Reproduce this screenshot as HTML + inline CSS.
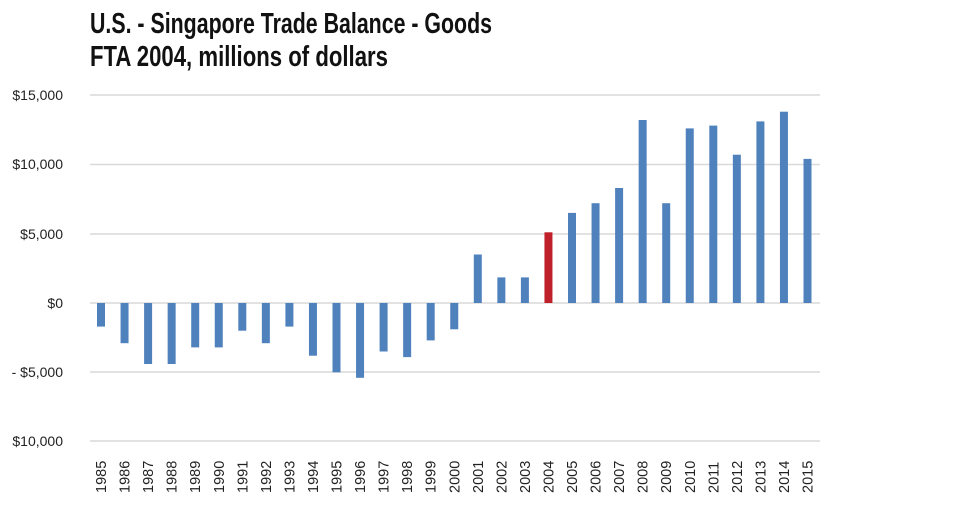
<!DOCTYPE html>
<html><head><meta charset="utf-8"><style>
html,body{margin:0;padding:0;background:#fff;width:960px;height:506px;overflow:hidden}
</style></head><body>
<svg width="960" height="506" xmlns="http://www.w3.org/2000/svg">
<g font-family="'Liberation Sans Narrow','Liberation Sans',sans-serif" font-size="29" font-weight="bold" fill="#111">
<text x="90" y="33" textLength="402" lengthAdjust="spacingAndGlyphs">U.S. - Singapore Trade Balance - Goods</text>
<text x="90" y="66" textLength="298" lengthAdjust="spacingAndGlyphs">FTA 2004, millions of dollars</text>
</g>
<g stroke="#d9d9d9" stroke-width="1.5">
<line x1="90" x2="820" y1="95" y2="95"/><line x1="90" x2="820" y1="164.5" y2="164.5"/>
<line x1="90" x2="820" y1="234" y2="234"/><line x1="90" x2="820" y1="303" y2="303"/>
<line x1="90" x2="820" y1="372" y2="372"/><line x1="90" x2="820" y1="441" y2="441"/>
</g>
<g font-family="'Liberation Sans',sans-serif" font-size="14" fill="#222" text-anchor="end">
<text x="63" y="100">$15,000</text><text x="63" y="169">$10,000</text>
<text x="63" y="239">$5,000</text><text x="63" y="308">$0</text>
<text x="63" y="377">- $5,000</text><text x="63" y="446">$10,000</text>
</g>
<g fill="#4f81bd">
<rect x="97" y="303" width="8" height="23.6"/>
<rect x="120.55" y="303" width="8" height="40.2"/>
<rect x="144.1" y="303" width="8" height="61"/>
<rect x="167.65" y="303" width="8" height="61"/>
<rect x="191.2" y="303" width="8" height="44.4"/>
<rect x="214.75" y="303" width="8" height="44.4"/>
<rect x="238.3" y="303" width="8" height="27.7"/>
<rect x="261.85" y="303" width="8" height="40.2"/>
<rect x="285.4" y="303" width="8" height="23.6"/>
<rect x="308.95" y="303" width="8" height="52.7"/>
<rect x="332.5" y="303" width="8" height="69.3"/>
<rect x="356.05" y="303" width="8" height="74.8"/>
<rect x="379.6" y="303" width="8" height="48.5"/>
<rect x="403.15" y="303" width="8" height="54.1"/>
<rect x="426.7" y="303" width="8" height="37.4"/>
<rect x="450.25" y="303" width="8" height="26.3"/>
<rect x="473.8" y="254.5" width="8" height="48.5"/>
<rect x="497.35" y="277.4" width="8" height="25.6"/>
<rect x="520.9" y="277.4" width="8" height="25.6"/>
<rect x="544.45" y="232.3" width="8" height="70.7" fill="#c0202a"/>
<rect x="568" y="212.9" width="8" height="90.1"/>
<rect x="591.55" y="203.2" width="8" height="99.8"/>
<rect x="615.1" y="188" width="8" height="115"/>
<rect x="638.65" y="120" width="8" height="183"/>
<rect x="662.2" y="203.2" width="8" height="99.8"/>
<rect x="685.75" y="128.4" width="8" height="174.6"/>
<rect x="709.3" y="125.6" width="8" height="177.4"/>
<rect x="732.85" y="154.7" width="8" height="148.3"/>
<rect x="756.4" y="121.4" width="8" height="181.6"/>
<rect x="779.95" y="111.7" width="8" height="191.3"/>
<rect x="803.5" y="158.9" width="8" height="144.1"/>
</g>
<g font-family="'Liberation Sans',sans-serif" font-size="14.5" fill="#222">
<text transform="translate(106,493) rotate(-90)">1985</text>
<text transform="translate(129.55,493) rotate(-90)">1986</text>
<text transform="translate(153.1,493) rotate(-90)">1987</text>
<text transform="translate(176.65,493) rotate(-90)">1988</text>
<text transform="translate(200.2,493) rotate(-90)">1989</text>
<text transform="translate(223.75,493) rotate(-90)">1990</text>
<text transform="translate(247.3,493) rotate(-90)">1991</text>
<text transform="translate(270.85,493) rotate(-90)">1992</text>
<text transform="translate(294.4,493) rotate(-90)">1993</text>
<text transform="translate(317.95,493) rotate(-90)">1994</text>
<text transform="translate(341.5,493) rotate(-90)">1995</text>
<text transform="translate(365.05,493) rotate(-90)">1996</text>
<text transform="translate(388.6,493) rotate(-90)">1997</text>
<text transform="translate(412.15,493) rotate(-90)">1998</text>
<text transform="translate(435.7,493) rotate(-90)">1999</text>
<text transform="translate(459.25,493) rotate(-90)">2000</text>
<text transform="translate(482.8,493) rotate(-90)">2001</text>
<text transform="translate(506.35,493) rotate(-90)">2002</text>
<text transform="translate(529.9,493) rotate(-90)">2003</text>
<text transform="translate(553.45,493) rotate(-90)">2004</text>
<text transform="translate(577,493) rotate(-90)">2005</text>
<text transform="translate(600.55,493) rotate(-90)">2006</text>
<text transform="translate(624.1,493) rotate(-90)">2007</text>
<text transform="translate(647.65,493) rotate(-90)">2008</text>
<text transform="translate(671.2,493) rotate(-90)">2009</text>
<text transform="translate(694.75,493) rotate(-90)">2010</text>
<text transform="translate(718.3,493) rotate(-90)">2011</text>
<text transform="translate(741.85,493) rotate(-90)">2012</text>
<text transform="translate(765.4,493) rotate(-90)">2013</text>
<text transform="translate(788.95,493) rotate(-90)">2014</text>
<text transform="translate(812.5,493) rotate(-90)">2015</text>
</g>
</svg>
</body></html>
